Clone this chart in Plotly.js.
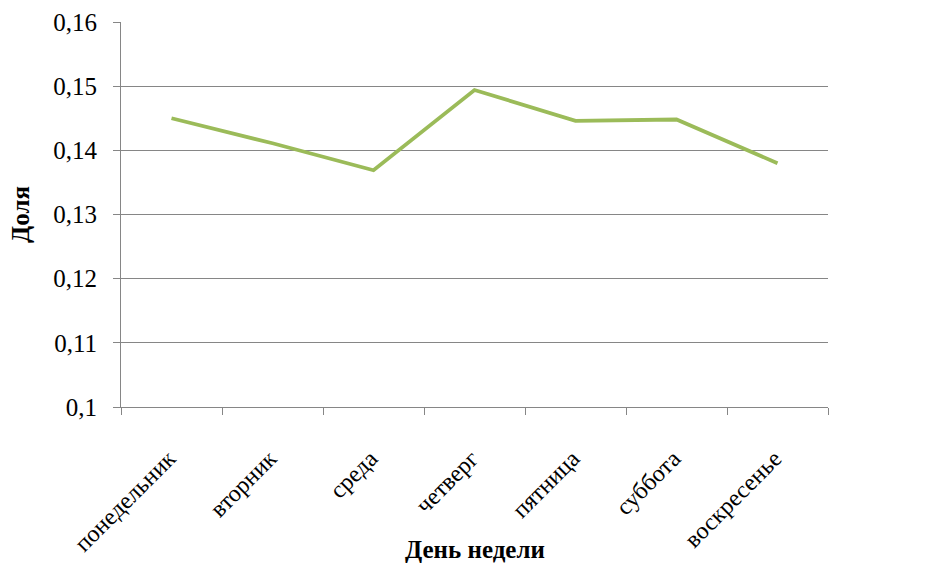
<!DOCTYPE html>
<html>
<head>
<meta charset="utf-8">
<script src="https://cdn.plot.ly/plotly-3.0.1.min.js"></script>
<style>html,body{margin:0;padding:0;background:#fff;}#chart{width:945px;height:573px;}</style>
</head>
<body>
<div id="chart"></div>
<script>
const days = ["понедельник", "вторник", "среда", "четверг", "пятница", "суббота", "воскресенье"];
const shares = [0.1450, 0.1411, 0.1369, 0.1494, 0.1446, 0.1448, 0.1380];
const yTicks = [0.1, 0.11, 0.12, 0.13, 0.14, 0.15, 0.16];
const yTickLabels = ["0,1", "0,11", "0,12", "0,13", "0,14", "0,15", "0,16"];
const xTitle = "День недели";
const yTitle = "Доля";

const trace = {
  x: days,
  y: shares,
  type: "scatter",
  mode: "lines",
  line: {color: "#9BBB59", width: 3.8},
  hoverinfo: "x+y"
};

const font = "Liberation Serif";
const layout = {
  width: 945,
  height: 573,
  margin: {l: 121, r: 117, t: 22, b: 166},
  paper_bgcolor: "#ffffff",
  plot_bgcolor: "#ffffff",
  showlegend: false,
  separators: ", ",
  font: {family: font, color: "#000000", size: 20},
  xaxis: {
    type: "category",
    range: [-0.5, 6.5],
    tickangle: -45,
    tickson: "boundaries",
    ticks: "outside",
    ticklen: 7,
    tickcolor: "#868686",
    showline: true,
    linecolor: "#868686",
    linewidth: 1,
    showgrid: false,
    zeroline: false,
    tickfont: {family: font, size: 24},
    ticklabelstandoff: 27,
    ticklabelshift: -3,
    automargin: false
  },
  yaxis: {
    range: [0.1, 0.16],
    tickvals: yTicks,
    ticktext: yTickLabels,
    ticks: "outside",
    ticklen: 7,
    tickcolor: "#868686",
    showline: true,
    linecolor: "#868686",
    linewidth: 1,
    showgrid: true,
    gridcolor: "#868686",
    gridwidth: 1,
    zeroline: false,
    tickfont: {family: font, size: 25},
    ticklabelstandoff: 11,
    automargin: false,
    title: {text: "<b>" + yTitle + "</b>", font: {family: font, size: 25}, standoff: 16}
  },
  annotations: [{
    text: "<b>" + xTitle + "</b>",
    xref: "paper", yref: "paper",
    x: 0.5, y: -0.371,
    xanchor: "center", yanchor: "middle",
    showarrow: false,
    font: {family: font, size: 25, color: "#000000"}
  }]
};

Plotly.newPlot("chart", [trace], layout, {displayModeBar: false, staticPlot: true});
</script>
</body>
</html>
